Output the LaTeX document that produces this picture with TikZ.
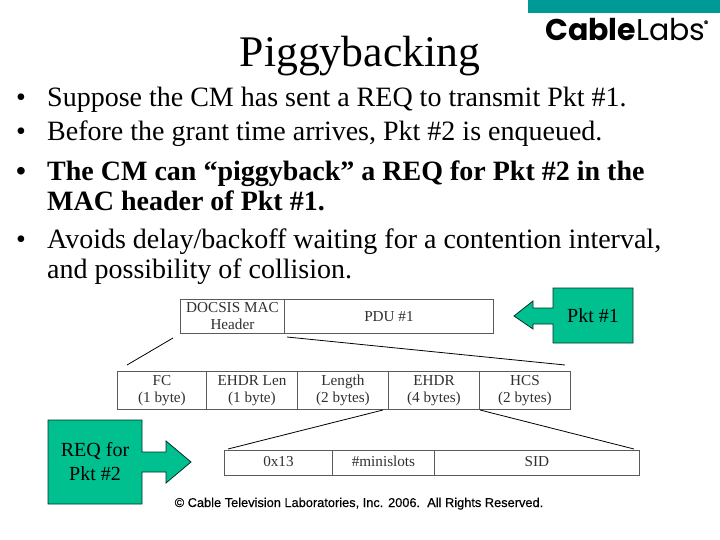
\documentclass[tikz,border=0pt]{standalone}
\usepackage{fontspec}
\setmainfont{Liberation Serif}
\newfontfamily\copyfont[FakeBold=0.35]{Liberation Sans}
\newfontfamily\logobold{Poppins}[UprightFont=*,BoldFont=* Bold]
\definecolor{calloutgreen}{HTML}{00C08F}
\definecolor{tealbar}{HTML}{009A96}
\definecolor{boxline}{HTML}{5A5A5A}
\definecolor{boxtext}{HTML}{303030}
\tikzset{
  cellbox/.style={draw=boxline,line width=0.9pt,inner sep=0pt,align=center,text=boxtext,
    font=\fontsize{15.2}{17}\selectfont},
  zoomline/.style={draw=black,line width=0.8pt},
  callout/.style={draw=black!75!calloutgreen,line width=0.8pt,fill=calloutgreen},
  calltext/.style={align=center,font=\fontsize{20}{24}\selectfont,inner sep=0pt},
  bodyline/.style={anchor=base west,inner sep=0pt,font=\fontsize{28}{28}\selectfont},
}
\newcommand{\cell}[6]{\node[cellbox,minimum width=#4pt - #3pt,minimum height=#6pt - #5pt,anchor=north west] (#1) at (#3,#5) {#2};}
\begin{document}
\begin{tikzpicture}[x=1pt,y=-1pt]
\useasboundingbox (0,0) rectangle (720,540);
\fill[tealbar] (528,0) rectangle (720,13);
\node[anchor=base west,inner sep=0pt] (logo) at (545,41) {\logobold\fontsize{30}{30}\selectfont\textbf{Cable}Labs};
\node[anchor=base west,inner sep=0pt] (logomark) at (704,24) {\copyfont\fontsize{5}{5}\selectfont ®};
\node[anchor=base,inner sep=0pt,font=\fontsize{43.7}{44}\selectfont] (title) at (360,67) {Piggybacking};
\node[bodyline] (b1) at (16,107) {•};
\node[bodyline] (t1) at (47,107) {Suppose the CM has sent a REQ to transmit Pkt \#1.};
\node[bodyline] (b2) at (16,141) {•};
\node[bodyline] (t2) at (47,141) {Before the grant time arrives, Pkt \#2 is enqueued.};
\node[bodyline] (b3) at (16,181) {\textbf{•}};
\node[bodyline] (t3) at (47,181) {\textbf{The CM can “piggyback” a REQ for Pkt \#2 in the}};
\node[bodyline] (t3b) at (47,211) {\textbf{MAC header of Pkt \#1.}};
\node[bodyline] (b4) at (16,248) {•};
\node[bodyline] (t4) at (47,248) {Avoids delay/backoff waiting for a contention interval,};
\node[bodyline] (t4b) at (47,278) {and possibility of collision.};
% top row
\cell{hdr}{DOCSIS MAC\\Header}{180}{284}{299}{333}
\cell{pdu}{PDU \#1}{284}{493}{299}{333}
% middle row
\cell{fc}{FC\\(1 byte)}{117}{206}{371}{409}
\cell{ehl}{EHDR Len\\(1 byte)}{206}{297}{371}{409}
\cell{len}{Length\\(2 bytes)}{297}{388}{371}{409}
\cell{ehdr}{EHDR\\(4 bytes)}{388}{479}{371}{409}
\cell{hcs}{HCS\\(2 bytes)}{479}{570}{371}{409}
% bottom row
\cell{hex}{\strut 0x13}{224}{332}{450}{475}
\cell{mini}{\strut\#minislots}{332}{434}{450}{475}
\cell{sid}{\strut SID}{434}{639}{450}{475}
% zoom lines
\coordinate (a1) at (173,338); \coordinate (a2) at (127,365);
\coordinate (b1e) at (287,337); \coordinate (b2e) at (565,365);
\coordinate (c1) at (383,410); \coordinate (c2) at (228,449);
\coordinate (d1) at (480,410); \coordinate (d2) at (634,449);
\draw[zoomline] (a1) -- (a2);
\draw[zoomline] (b1e) -- (b2e);
\draw[zoomline] (c1) -- (c2);
\draw[zoomline] (d1) -- (d2);
% callouts
\draw[callout] (553,288) -- (633,288) -- (633,343) -- (553,343) -- (553,324) -- (533,324) -- (533,329) -- (514,316) -- (533,301) -- (533,308) -- (553,308) -- cycle;
\node[calltext] (pkt1) at (593,316) {Pkt \#1};
\draw[callout] (48,420) -- (142,420) -- (142,452) -- (166,452) -- (166,441) -- (191,462) -- (166,483) -- (166,472) -- (142,472) -- (142,504) -- (48,504) -- cycle;
\node[calltext] (req) at (95,462) {REQ for\\Pkt \#2};
\node[anchor=base,inner sep=0pt] (copy) at (359,507) {\copyfont\fontsize{12.8}{14}\selectfont © Cable Television Laboratories, Inc. 2006.\ \ All Rights Reserved.};
\end{tikzpicture}
\end{document}
